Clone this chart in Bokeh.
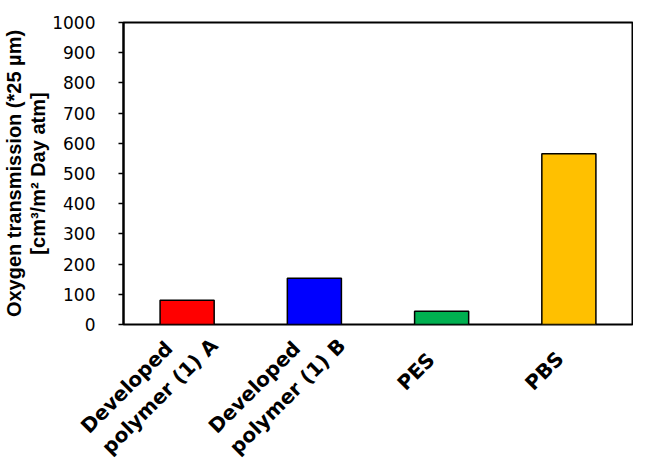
import math
from bokeh.plotting import figure
from bokeh.layouts import column
from bokeh.models import Range1d, FactorRange, FixedTicker, ColumnDataSource
from bokeh.core.properties import value
from bokeh.embed import file_html
from bokeh.resources import INLINE

categories = ["Developed polymer (1) A", "Developed polymer (1) B", "PES", "PBS"]
category_lines = [["Developed", "polymer (1) A"], ["Developed", "polymer (1) B"], ["PES"], ["PBS"]]
values = [80, 153, 44, 565]
colors = ["#FF0000", "#0000FF", "#00B050", "#FFC000"]
y_ticks = [0, 100, 200, 300, 400, 500, 600, 700, 800, 900, 1000]
y_label = "Oxygen transmission (*25 µm)\n[cm³/m² Day atm]"

# layout (pixels)
W = 633
BORDER_L, BORDER_R, BORDER_T, BORDER_B = 121, 1, 22, 10
FRAME_H = 302
P_H = BORDER_T + FRAME_H + BORDER_B
Q_H = 460 - P_H
UNIT = (W - BORDER_L - BORDER_R) / len(categories)   # pixels per category

source = ColumnDataSource(data=dict(cat=categories, val=values, color=colors))

p = figure(width=W, height=P_H, x_range=FactorRange(*categories, range_padding=0, factor_padding=0),
           y_range=Range1d(0, 1000), output_backend="svg", toolbar_location=None,
           x_axis_location=None,
           min_border_left=BORDER_L, min_border_right=BORDER_R,
           min_border_top=BORDER_T, min_border_bottom=BORDER_B)

p.vbar(x="cat", top="val", width=0.425, fill_color="color", line_color="black",
       line_width=1.5, source=source)

p.xgrid.visible = False
p.ygrid.visible = False
p.outline_line_color = "black"
p.outline_line_width = 2
p.background_fill_color = "white"
p.border_fill_color = "white"

p.yaxis.ticker = FixedTicker(ticks=y_ticks)
p.yaxis.minor_tick_line_color = None
p.yaxis.major_tick_out = 5
p.yaxis.major_tick_in = 0
p.yaxis.major_tick_line_width = 1.5
p.yaxis.axis_line_width = 2
p.yaxis.axis_line_color = "black"
p.yaxis.major_label_text_font = "DejaVu Sans"
p.yaxis.major_label_text_font_size = "17px"
p.yaxis.major_label_text_color = "black"
p.yaxis.major_label_standoff = 23
p.yaxis.axis_label = y_label
p.yaxis.axis_label_text_font = "Liberation Sans"
p.yaxis.axis_label_text_font_style = "bold"
p.yaxis.axis_label_text_font_size = "20px"
p.yaxis.axis_label_text_line_height = 1.1
p.yaxis.axis_label_text_color = "black"
p.yaxis.axis_label_standoff = 0

# category labels: a strip under the chart sharing the category scale
# (one category = UNIT pixels), rotated lines left-aligned in each label block
q = figure(width=W, height=Q_H,
           x_range=Range1d(-BORDER_L / UNIT, len(categories) + BORDER_R / UNIT),
           y_range=Range1d(-(Q_H + BORDER_B), -BORDER_B),
           output_backend="svg", toolbar_location=None,
           x_axis_location=None, y_axis_location=None,
           min_border_left=0, min_border_right=0, min_border_top=0, min_border_bottom=0)
q.xgrid.visible = False
q.ygrid.visible = False
q.outline_line_color = None
q.background_fill_color = "white"
q.border_fill_color = "white"

# keep each figure's own frame (no frame alignment across the column)
for fig in (p, q):
    if "frame_align" in fig.properties():
        fig.frame_align = False

lab_x, lab_y, lab_text = [], [], []
for i, lines in enumerate(category_lines):
    if len(lines) == 1:
        offsets = [(-40, 62)]
    else:
        offsets = [(-101, 105), (-80, 126)]
    for line, (dx, dy) in zip(lines, offsets):
        lab_x.append(i + 0.5 + dx / UNIT)
        lab_y.append(-dy)
        lab_text.append(line)

q.text(x=lab_x, y=lab_y, text=lab_text, angle=math.pi / 4,
       text_align="left", text_baseline="alphabetic",
       text_font=value("DejaVu Sans"), text_font_style="bold",
       text_font_size="20px", text_color="black")

open("out.html", "w").write(file_html(column(p, q), INLINE))
